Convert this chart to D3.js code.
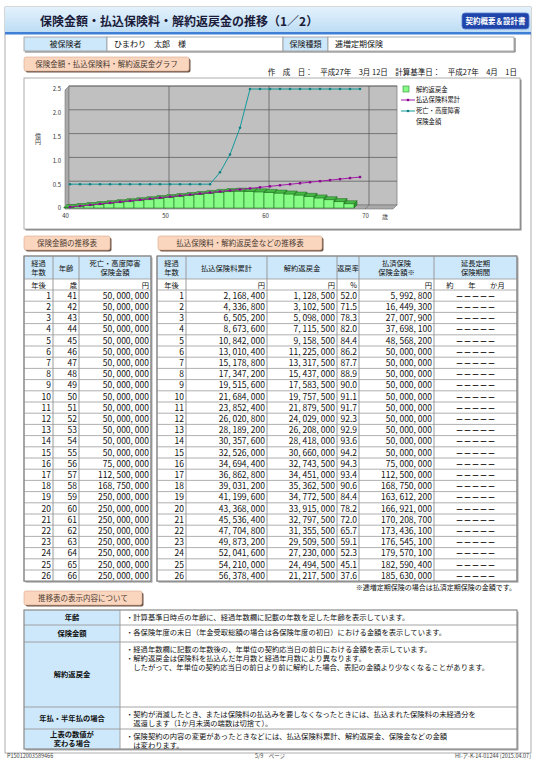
<!DOCTYPE html>
<html lang="ja">
<head>
<meta charset="utf-8">
<title>保険金額・払込保険料・解約返戻金の推移</title>
<script src="https://cdn.jsdelivr.net/npm/d3@7"></script>
<style>
  body { margin: 0; background: #fff; }
  svg text { font-family: "Noto Sans CJK JP", "Noto Sans", sans-serif; fill: #111; }
</style>
</head>
<body>
<div id="page"></div>
<script>
// ---------------- data ----------------
const elapsed = [1, 2, 3, 4, 5, 6, 7, 8, 9, 10, 11, 12, 13, 14, 15, 16, 17, 18, 19, 20, 21, 22, 23, 24, 25, 26];
const ages = [41, 42, 43, 44, 45, 46, 47, 48, 49, 50, 51, 52, 53, 54, 55, 56, 57, 58, 59, 60, 61, 62, 63, 64, 65, 66];
const deathBenefit = [50000000, 50000000, 50000000, 50000000, 50000000, 50000000, 50000000, 50000000, 50000000, 50000000,
  50000000, 50000000, 50000000, 50000000, 50000000, 75000000, 112500000, 168750000, 250000000, 250000000,
  250000000, 250000000, 250000000, 250000000, 250000000, 250000000];
const paidTotal = [2168400, 4336800, 6505200, 8673600, 10842000, 13010400, 15178800, 17347200, 19515600, 21684000,
  23852400, 26020800, 28189200, 30357600, 32526000, 34694400, 36862800, 39031200, 41199600, 43368000,
  45536400, 47704800, 49873200, 52041600, 54210000, 56378400];
const surrender = [1128500, 3102500, 5098000, 7115500, 9158500, 11225000, 13317500, 15437000, 17583500, 19757500,
  21879500, 24029000, 26208000, 28418000, 30660000, 32743500, 34451000, 35362500, 34772500, 33915000,
  32797500, 31355500, 29509500, 27230000, 24494500, 21217500];
const returnRate = [52.0, 71.5, 78.3, 82.0, 84.4, 86.2, 87.7, 88.9, 90.0, 91.1, 91.7, 92.3, 92.9, 93.6, 94.2,
  94.3, 93.4, 90.6, 84.4, 78.2, 72.0, 65.7, 59.1, 52.3, 45.1, 37.6];
const paidUp = [5992800, 16449300, 27007900, 37698100, 48568200, 50000000, 50000000, 50000000, 50000000, 50000000,
  50000000, 50000000, 50000000, 50000000, 50000000, 75000000, 112500000, 168750000, 163612200, 166921000,
  170208700, 173436100, 176545100, 179570100, 182590400, 185630000];

// the graph runs on to age 70 (rest of the table is on page 2)
const agesExtra = [67, 68, 69, 70];
const deathBenefitExtra = [250000000, 250000000, 250000000, 250000000];
const paidTotalExtra = [58546800, 60715200, 62883600, 65052000];
const surrenderExtra = [17500000, 13500000, 9000000, 0];

const xTicks = [40, 50, 60, 70];
const yTicks = [0, 0.5, 1.0, 1.5, 2.0, 2.5];

// ---------------- setup ----------------
const svg = d3.select("#page").append("svg")
  .attr("width", 538).attr("height", 760);

const defs = svg.append("defs");
const grad = defs.append("linearGradient").attr("id", "hdr").attr("x1", 0).attr("y1", 0).attr("x2", 0).attr("y2", 1);
grad.append("stop").attr("offset", "0%").attr("stop-color", "#e4f2fc");
grad.append("stop").attr("offset", "100%").attr("stop-color", "#bcdcf4");

const BLUE_CELL = "#cde8fa";
const LINE = "#9a9a9a";

// page frame
svg.append("rect").attr("x", 5).attr("y", 7).attr("width", 526).attr("height", 746)
  .attr("fill", "none").attr("stroke", "#999").attr("stroke-width", 0.8);

// header bar
svg.append("rect").attr("x", 5).attr("y", 7).attr("width", 526).attr("height", 26).attr("fill", "url(#hdr)");
svg.append("rect").attr("x", 5).attr("y", 32).attr("width", 526).attr("height", 2.5).attr("fill", "#3f7fd6");
svg.append("text").attr("x", 40).attr("y", 26)
  .attr("font-size", 12).attr("font-weight", "bold").style("fill", "#1b1b3a")
  .text("保険金額・払込保険料・解約返戻金の推移（1／2）");
svg.append("rect").attr("x", 462).attr("y", 13).attr("width", 67).attr("height", 16).attr("rx", 3)
  .attr("fill", "#1f45aa").attr("stroke", "#5b7fd0").attr("stroke-width", 0.8);
svg.append("text").attr("x", 495.5).attr("y", 24).attr("text-anchor", "middle")
  .attr("font-size", 7.5).attr("font-weight", "bold").style("fill", "#fff")
  .text("契約概要＆設計書");

// insured info row
const info = svg.append("g");
const infoCells = [
  { x0: 24, x1: 107, text: "被保険者", blue: true },
  { x0: 107, x1: 283, text: "ひまわり　太郎　様", blue: false },
  { x0: 283, x1: 328, text: "保険種類", blue: true },
  { x0: 328, x1: 514, text: "逓増定期保険", blue: false }
];
info.selectAll("rect").data(infoCells).join("rect")
  .attr("x", d => d.x0).attr("y", 37).attr("width", d => d.x1 - d.x0).attr("height", 14)
  .attr("fill", d => d.blue ? BLUE_CELL : "#fff").attr("stroke", LINE).attr("stroke-width", 0.8);
info.selectAll("text").data(infoCells).join("text")
  .attr("x", d => d.blue ? (d.x0 + d.x1) / 2 : d.x0 + 7).attr("y", 47)
  .attr("text-anchor", d => d.blue ? "middle" : "start")
  .attr("font-size", 8).text(d => d.text);
info.append("line").attr("x1", 515).attr("x2", 515).attr("y1", 38).attr("y2", 52).attr("stroke", "#777").attr("stroke-width", 1.2);
info.append("line").attr("x1", 25).attr("x2", 515).attr("y1", 52).attr("y2", 52).attr("stroke", "#777").attr("stroke-width", 1.2);

// tab labels
function tab(x, y, w, label) {
  const g = svg.append("g");
  g.append("rect").attr("x", x + 1.5).attr("y", y + 1.5).attr("width", w).attr("height", 14).attr("rx", 2).attr("fill", "#6b5548");
  g.append("rect").attr("x", x).attr("y", y).attr("width", w).attr("height", 14).attr("rx", 2)
    .attr("fill", "#fbd6bf").attr("stroke", "#d9a98c").attr("stroke-width", 0.6);
  g.append("text").attr("x", x + w / 2).attr("y", y + 10).attr("text-anchor", "middle")
    .attr("font-size", 7.5).style("fill", "#4a3a30").text(label);
}
tab(24, 57, 165, "保険金額・払込保険料・解約返戻金グラフ");
tab(24, 236, 86, "保険金額の推移表");
tab(158, 236, 164, "払込保険料・解約返戻金などの推移表");
tab(24, 591, 118, "推移表の表示内容について");

svg.append("text").attr("x", 517).attr("y", 75).attr("text-anchor", "end").attr("font-size", 7.5)
  .attr("xml:space", "preserve")
  .text("作　成　日：　平成27年　3月 12日　計算基準日：　平成27年　4月　1日");

// ---------------- graph ----------------
svg.append("rect").attr("x", 25.5).attr("y", 79.5).attr("width", 496).attr("height", 151).attr("fill", "#888");
svg.append("rect").attr("x", 24).attr("y", 78).attr("width", 496).attr("height", 151)
  .attr("fill", "#fff").attr("stroke", "#999").attr("stroke-width", 0.8);

const x = d3.scaleLinear().domain([40, 73.2]).range([65, 397]);
const y = d3.scaleLinear().domain([0, 2.5]).range([208, 89]);
const oku = v => v / 1e8;

const chart = svg.append("g");
const d3x = 4;
// walls
chart.append("path")
  .attr("d", `M${x(40)},${y(2.5) + 1}L${x(40) + d3x},${y(2.5) - 3}L${x(40) + d3x},${y(0) - 3}L${x(40)},${y(0) + 1}Z`)
  .attr("fill", "#a9a9a9").attr("stroke", "#777").attr("stroke-width", 0.6);
chart.append("rect").attr("x", x(40) + d3x).attr("y", y(2.5) - 3)
  .attr("width", x(73.2) - x(40) - d3x).attr("height", y(0) - y(2.5))
  .attr("fill", "#c0c0c0").attr("stroke", "#808080").attr("stroke-width", 0.8);
chart.append("path")
  .attr("d", `M${x(40)},${y(0) + 1}L${x(40) + d3x},${y(0) - 3}L${x(73.2)},${y(0) - 3}L${x(73.2) - d3x},${y(0) + 1}Z`)
  .attr("fill", "#a9a9a9").attr("stroke", "#777").attr("stroke-width", 0.6);

// gridlines
chart.append("g").selectAll("line").data(yTicks.filter(v => v > 0)).join("line")
  .attr("x1", x(40) + d3x).attr("x2", x(73.2)).attr("y1", d => y(d) - 3).attr("y2", d => y(d) - 3)
  .attr("stroke", "#555").attr("stroke-width", 0.7);
chart.append("g").selectAll("line").data(xTicks.filter(v => v > 40)).join("line")
  .attr("x1", d => x(d) + d3x).attr("x2", d => x(d) + d3x).attr("y1", y(2.5) - 3).attr("y2", y(0) - 3)
  .attr("stroke", "#555").attr("stroke-width", 0.7);
chart.append("g").selectAll("line").data(xTicks.filter(v => v > 40)).join("line")
  .attr("x1", d => x(d) + d3x).attr("x2", d => x(d)).attr("y1", y(0) - 3).attr("y2", y(0) + 1)
  .attr("stroke", "#666").attr("stroke-width", 0.6);

// bars: surrender value
const chartAges = ages.concat(agesExtra);
const chartSurrender = surrender.concat(surrenderExtra);
const chartPaid = paidTotal.concat(paidTotalExtra);
const chartDeath = deathBenefit.concat(deathBenefitExtra);
const barData = chartAges.map((a, i) => ({ a: a, v: oku(chartSurrender[i]) })).filter(d => d.v > 0);
const bd = 3;
const bars = chart.append("g").selectAll("g").data(barData).join("g");
bars.append("path")
  .attr("d", d => {
    const x1 = x(d.a) - 1, yt = y(d.v), yb = y(0);
    return `M${x1},${yt}L${x1 + bd},${yt - bd}L${x1 + bd},${yb - bd}L${x1},${yb}Z`;
  })
  .attr("fill", "#2f9a2f").attr("stroke", "#1a5f1a").attr("stroke-width", 0.5);
bars.append("rect")
  .attr("x", d => x(d.a - 1) - 1).attr("y", d => y(d.v))
  .attr("width", d => x(d.a) - x(d.a - 1)).attr("height", d => y(0) - y(d.v))
  .attr("fill", "#86fb86").attr("stroke", "#1f7a1f").attr("stroke-width", 0.6);
bars.append("path")
  .attr("d", d => {
    const x0 = x(d.a - 1) - 1, x1 = x(d.a) - 1, yt = y(d.v);
    return `M${x0},${yt}L${x0 + bd},${yt - bd}L${x1 + bd},${yt - bd}L${x1},${yt}Z`;
  })
  .attr("fill", "#45b845").attr("stroke", "#1f6f1f").attr("stroke-width", 0.5);

// lines
const mid = a => x(a - 0.5);
const paidPts = chartAges.map((a, i) => ({ a: a, v: oku(chartPaid[i]) }));
const deathPts = chartAges.map((a, i) => ({ a: a, v: oku(chartDeath[i]) }));
const line = d3.line().x(d => mid(d.a)).y(d => y(d.v));

chart.append("path").datum(deathPts).attr("d", line)
  .attr("fill", "none").attr("stroke", "#129a9a").attr("stroke-width", 1);
chart.append("g").selectAll("circle").data(deathPts).join("circle")
  .attr("cx", d => mid(d.a)).attr("cy", d => y(d.v)).attr("r", 1.3).attr("fill", "#127f80");

chart.append("path").datum(paidPts).attr("d", line)
  .attr("fill", "none").attr("stroke", "#a31aa8").attr("stroke-width", 1);
chart.append("g").selectAll("rect").data(paidPts).join("rect")
  .attr("x", d => mid(d.a) - 1.2).attr("y", d => y(d.v) - 1.2).attr("width", 2.4).attr("height", 2.4)
  .attr("fill", "#8a0a8f");

// axes
const yAxis = chart.append("g").attr("transform", `translate(${x(40) - 2},0)`)
  .call(d3.axisLeft(y).tickValues(yTicks).tickSize(0).tickPadding(2)
    .tickFormat(d => d === 0 ? "0" : d3.format(".1f")(d)));
const xAxis = chart.append("g").attr("transform", `translate(0,${y(0) + 3})`)
  .call(d3.axisBottom(x).tickValues(xTicks).tickSize(0).tickPadding(3));
[yAxis, xAxis].forEach(ax => {
  ax.select(".domain").remove();
  ax.selectAll("text").attr("font-size", 6).style("fill", "#333")
    .style("font-family", '"Noto Sans CJK JP", sans-serif');
});
chart.append("text").attr("x", 385).attr("y", 219).attr("text-anchor", "middle").attr("font-size", 6).style("fill", "#333").text("歳");
// vertical unit label 億円
chart.append("text").attr("x", 38).attr("y", 139).attr("text-anchor", "middle")
  .attr("font-size", 6).style("fill", "#333").style("writing-mode", "vertical-rl")
  .style("glyph-orientation-vertical", "0").text("億円");

// legend
const lg = chart.append("g").attr("transform", "translate(403,0)");
lg.append("rect").attr("x", 0).attr("y", 86).attr("width", 6).attr("height", 6)
  .attr("fill", "#86fb86").attr("stroke", "#2f8a2f").attr("stroke-width", 0.6);
lg.append("text").attr("x", 13).attr("y", 91.5).attr("font-size", 6.3).text("解約返戻金");
lg.append("line").attr("x1", -2).attr("x2", 12).attr("y1", 100).attr("y2", 100).attr("stroke", "#a31aa8");
lg.append("rect").attr("x", 3.8).attr("y", 98.8).attr("width", 2.4).attr("height", 2.4).attr("fill", "#8a0a8f");
lg.append("text").attr("x", 13).attr("y", 102).attr("font-size", 6.3).text("払込保険料累計");
lg.append("line").attr("x1", -2).attr("x2", 12).attr("y1", 111).attr("y2", 111).attr("stroke", "#129a9a");
lg.append("circle").attr("cx", 5).attr("cy", 111).attr("r", 1.3).attr("fill", "#127f80");
lg.append("text").attr("x", 13).attr("y", 113).attr("font-size", 6.3).text("死亡・高度障害");
lg.append("text").attr("x", 13).attr("y", 124).attr("font-size", 6.3).text("保険金額");

// ---------------- tables ----------------
const yen = v => d3.format(",")(v).replace(/,/g, ", ");
const pct = d3.format(".1f");
const TOP = 256, HEAD_H = 23, UNIT_H = 11, ROW_H = 11.2;
const rowY = d3.scaleLinear().domain([0, elapsed.length]).range([TOP + HEAD_H + UNIT_H, TOP + HEAD_H + UNIT_H + elapsed.length * ROW_H]);

function drawTable(cols, header, units, unitAlign, rows, align) {
  const g = svg.append("g");
  const x0 = cols[0], x1 = cols[cols.length - 1];
  const bottom = rowY(rows.length);
  const w = i => cols[i + 1] - cols[i];
  g.append("rect").attr("x", x0 + 1.5).attr("y", TOP + 1.5).attr("width", x1 - x0).attr("height", bottom - TOP).attr("fill", "#aaa");
  g.append("rect").attr("x", x0).attr("y", TOP).attr("width", x1 - x0).attr("height", bottom - TOP).attr("fill", "#fff");
  g.selectAll("rect.hd").data(header).join("rect").attr("class", "hd")
    .attr("x", (d, i) => cols[i]).attr("y", TOP).attr("width", (d, i) => w(i)).attr("height", HEAD_H)
    .attr("fill", BLUE_CELL);
  header.forEach((lab, i) => {
    const lines = lab.split("\n");
    lines.forEach((ln, k) => {
      g.append("text").attr("x", (cols[i] + cols[i + 1]) / 2)
        .attr("y", TOP + HEAD_H / 2 + 3 + (k - (lines.length - 1) / 2) * 9)
        .attr("text-anchor", "middle").attr("font-size", 7.3).text(ln);
    });
  });
  const tx = (i, a) => a === "end" ? cols[i + 1] - 2 : a === "start" ? cols[i] + 2 : (cols[i] + cols[i + 1]) / 2;
  g.selectAll("text.un").data(units).join("text").attr("class", "un")
    .attr("x", (d, i) => tx(i, unitAlign[i])).attr("y", TOP + HEAD_H + UNIT_H / 2 + 3)
    .attr("text-anchor", (d, i) => unitAlign[i]).attr("font-size", 7.3)
    .attr("xml:space", "preserve").text(d => d);
  // horizontal rules
  const hy = [TOP, TOP + HEAD_H].concat(d3.range(rows.length + 1).map(r => rowY(r)));
  g.selectAll("line.h").data(hy).join("line").attr("class", "h")
    .attr("x1", x0).attr("x2", x1).attr("y1", d => d).attr("y2", d => d)
    .attr("stroke", LINE).attr("stroke-width", 0.8);
  g.selectAll("line.v").data(cols).join("line").attr("class", "v")
    .attr("x1", d => d).attr("x2", d => d).attr("y1", TOP).attr("y2", bottom)
    .attr("stroke", LINE).attr("stroke-width", 1);
  g.append("rect").attr("x", x0).attr("y", TOP).attr("width", x1 - x0).attr("height", bottom - TOP)
    .attr("fill", "none").attr("stroke", "#8a8a8a").attr("stroke-width", 1.2);
  // body cells
  const rg = g.selectAll("g.row").data(rows).join("g").attr("class", "row")
    .attr("transform", (d, r) => `translate(0,${rowY(r) + ROW_H / 2 + 3.2})`);
  rg.selectAll("text").data(d => d).join("text")
    .attr("x", (d, i) => tx(i, align[i])).attr("text-anchor", (d, i) => align[i])
    .attr("font-size", (d, i) => align[i] === "middle" ? 8 : 8.5)
    .attr("font-weight", (d, i) => align[i] === "middle" ? "bold" : null)
    .text(d => d);
}

drawTable([24, 53, 79, 151],
  ["経過\n年数", "年齢", "死亡・高度障害\n保険金額"],
  ["年後", "歳", "円"], ["middle", "end", "end"],
  elapsed.map((e, i) => [String(e), String(ages[i]), yen(deathBenefit[i])]),
  ["end", "end", "end"]);

drawTable([157, 186, 267, 337, 359, 434, 517],
  ["経過\n年数", "払込保険料累計", "解約返戻金", "返戻率", "払済保険\n保険金額※", "延長定期\n保険期間"],
  ["年後", "円", "円", "%", "円", "約　　年　　か月"], ["middle", "end", "end", "end", "end", "middle"],
  elapsed.map((e, i) => [String(e), yen(paidTotal[i]), yen(surrender[i]), pct(returnRate[i]), yen(paidUp[i]), "－－－－－"]),
  ["end", "end", "end", "end", "end", "middle"]);

svg.append("text").attr("x", 516).attr("y", 590).attr("text-anchor", "end").attr("font-size", 7)
  .text("※逓増定期保険の場合は払済定期保険の金額です。");

// ---------------- notes table ----------------
const noteLabels = [["年齢"], ["保険金額"], ["解約返戻金"], ["年払・半年払の場合"], ["上表の数値が", "変わる場合"]];
const noteTexts = [
  ["・計算基準日時点の年齢に、経過年数欄に記載の年数を足した年齢を表示しています。"],
  ["・各保険年度の末日（年金受取総額の場合は各保険年度の初日）における金額を表示しています。"],
  ["・経過年数欄に記載の年数後の、年単位の契約応当日の前日における金額を表示しています。",
   "・解約返戻金は保険料を払込んだ年月数と経過年月数により異なります。",
   "　したがって、年単位の契約応当日の前日より前に解約した場合、表記の金額より少なくなることがあります。"],
  ["・契約が消滅したとき、または保険料の払込みを要しなくなったときには、払込まれた保険料の未経過分を",
   "　返還します（1か月未満の端数は切捨て）。"],
  ["・保険契約の内容の変更があったときなどには、払込保険料累計、解約返戻金、保険金などの金額",
   "　は変わります。"]
];
const noteRowH = [15, 17, 65, 22, 20];
const nx0 = 24, nx1 = 120, nx2 = 517, ny0 = 610;
const nTops = noteRowH.map((h, i) => ny0 + d3.sum(noteRowH.slice(0, i)));
const nBottom = ny0 + d3.sum(noteRowH);
const notes = svg.append("g");
notes.append("rect").attr("x", nx0 + 1.5).attr("y", ny0 + 1.5).attr("width", nx2 - nx0).attr("height", nBottom - ny0).attr("fill", "#aaa");
notes.append("rect").attr("x", nx0).attr("y", ny0).attr("width", nx2 - nx0).attr("height", nBottom - ny0).attr("fill", "#fff");
notes.append("rect").attr("x", nx0).attr("y", ny0).attr("width", nx1 - nx0).attr("height", nBottom - ny0).attr("fill", BLUE_CELL);
notes.selectAll("line.h").data(nTops.slice(1)).join("line").attr("class", "h")
  .attr("x1", nx0).attr("x2", nx2).attr("y1", d => d).attr("y2", d => d).attr("stroke", LINE).attr("stroke-width", 0.9);
notes.append("line").attr("x1", nx1).attr("x2", nx1).attr("y1", ny0).attr("y2", nBottom).attr("stroke", LINE).attr("stroke-width", 0.9);
notes.append("rect").attr("x", nx0).attr("y", ny0).attr("width", nx2 - nx0).attr("height", nBottom - ny0)
  .attr("fill", "none").attr("stroke", "#8a8a8a").attr("stroke-width", 1.2);
noteLabels.forEach((lab, i) => {
  const cy = nTops[i] + noteRowH[i] / 2;
  lab.forEach((ln, k) => {
    notes.append("text").attr("x", (nx0 + nx1) / 2).attr("y", cy + 2.7 + (k - (lab.length - 1) / 2) * 9)
      .attr("text-anchor", "middle").attr("font-size", 7.3).attr("font-weight", "bold").text(ln);
  });
  noteTexts[i].forEach((ln, k) => {
    notes.append("text").attr("x", nx1 + 6).attr("y", nTops[i] + 9.5 + k * 9)
      .attr("font-size", 7.3).attr("xml:space", "preserve").text(ln);
  });
});

// footer
const foot = svg.append("g").attr("font-size", 5.5);
foot.append("text").attr("x", 7).attr("y", 758).style("fill", "#444").text("P15012003589466");
foot.append("text").attr("x", 270).attr("y", 758).attr("text-anchor", "middle").style("fill", "#444").text("5/9　ページ");
foot.append("text").attr("x", 531).attr("y", 758).attr("text-anchor", "end").style("fill", "#444").text("HI-ア-K-14-01244 (2015.04.07)");
</script>
</body>
</html>
